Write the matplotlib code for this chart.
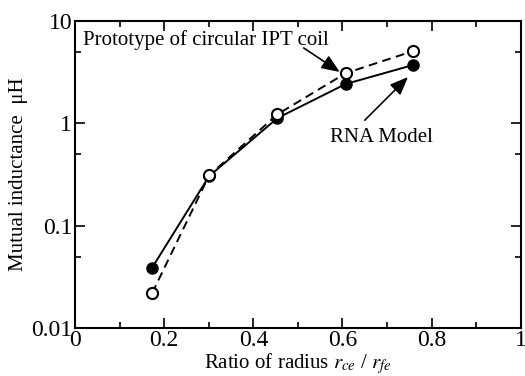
import matplotlib
matplotlib.use("Agg")
import matplotlib.pyplot as plt
from matplotlib.ticker import FixedLocator, NullFormatter, FixedFormatter

plt.rcParams['font.family'] = ['Liberation Serif', 'DejaVu Serif']
plt.rcParams['mathtext.fontset'] = 'stix'

ratio = [0.173, 0.301, 0.454, 0.607, 0.759]
rna_model = [0.039, 0.305, 1.12, 2.41, 3.70]
prototype = [0.022, 0.31, 1.22, 3.07, 5.06]

xticks = [0, 0.2, 0.4, 0.6, 0.8, 1]
xtick_labels = ['0', '0.2', '0.4', '0.6', '0.8', '1']
yticks = [0.01, 0.1, 1, 10]
ytick_labels = ['0.01', '0.1', '1', '10']

fig = plt.figure(figsize=(5.25, 3.76), dpi=100)
ax = fig.add_axes([0.1429, 0.127, 0.849, 0.818])

ax.plot(ratio, rna_model, '-', color='black', lw=1.4, marker='o', ms=8,
        mfc='black', mec='black', zorder=3)
ax.plot(ratio, prototype, '--', color='black', lw=1.4, dashes=(4.5, 2.8), marker='o', ms=8,
        mfc='white', mec='black', mew=1.5, zorder=4)

ax.set_yscale('log')
ax.set_xlim(0, 1)
ax.set_ylim(0.01, 10)

ax.xaxis.set_major_locator(FixedLocator(xticks))
ax.xaxis.set_major_formatter(FixedFormatter(xtick_labels))
ax.xaxis.set_minor_locator(FixedLocator([0.1, 0.3, 0.5, 0.7, 0.9]))
ax.yaxis.set_major_locator(FixedLocator(yticks))
ax.yaxis.set_major_formatter(FixedFormatter(ytick_labels))
ax.yaxis.set_minor_locator(FixedLocator([0.05, 0.5, 5]))
ax.yaxis.set_minor_formatter(NullFormatter())

ax.tick_params(which='both', direction='in', top=True, right=True, labelsize=17, width=1.2)
ax.tick_params(which='major', length=7)
ax.tick_params(axis='x', which='major', pad=1)
ax.tick_params(axis='y', which='major', pad=2)
ax.tick_params(which='minor', length=4)
for s in ax.spines.values():
    s.set_linewidth(1.5)

ax.set_xlabel(r'Ratio of radius $r_{ce}$ / $r_{fe}$', fontsize=15, labelpad=0)
ax.set_ylabel('Mutual inductance  μH', fontsize=15, labelpad=2)

arrow = dict(arrowstyle='-|>,head_length=1.1,head_width=0.45', color='black', lw=1.2,
             shrinkA=0, shrinkB=0)
ax.text(0.018, 6.48, 'Prototype of circular IPT coil', fontsize=15, va='center', ha='left')
ax.annotate('', xy=(0.594, 3.16), xytext=(0.513, 5.42), arrowprops=arrow)
ax.text(0.572, 0.733, 'RNA Model', fontsize=15, va='center', ha='left')
ax.annotate('', xy=(0.747, 2.82), xytext=(0.650, 1.07), arrowprops=arrow)

fig.savefig('out.png', dpi=100)
